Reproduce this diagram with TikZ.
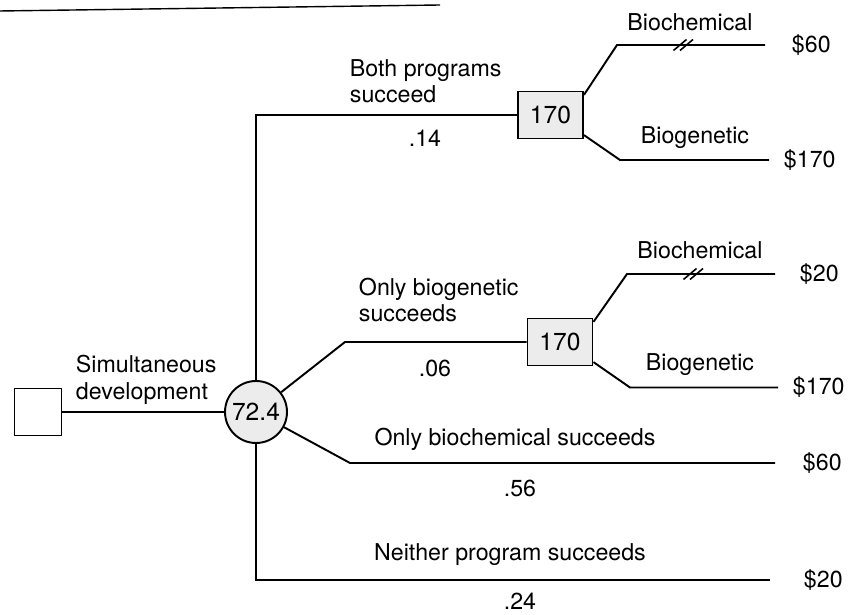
\documentclass[tikz,border=0pt]{standalone}
\usepackage{fontspec}
\setmainfont{TeX Gyre Heros}
\usetikzlibrary{positioning}

\begin{document}
\begin{tikzpicture}[line width=1.1pt,
    every node/.style={font=\fontsize{13.2}{15}\selectfont},
    valbox/.style={draw, fill=gray!15, minimum width=1.3cm, minimum height=0.94cm, inner sep=0pt, font=\fontsize{14}{16}\selectfont},
    chancenode/.style={draw, circle, fill=gray!15, minimum size=1.24cm, inner sep=0pt, font=\fontsize{14}{16}\selectfont},
    lbl/.style={align=left, inner sep=0pt},
    payoff/.style={inner sep=0pt}]
    \useasboundingbox (0,0) rectangle (17.14,12.3);

    % Rule across the top
    \draw[line width=0.8pt] (0,12.08) -- (8.8,12.2);

    % Decision and chance nodes
    \node[draw, minimum size=0.94cm] (start) at (0.76,4.06) {};
    \node[chancenode] (chance) at (5.12,4.06) {72.4};
    \node[valbox] (both) at (11.01,10.0) {170};
    \node[valbox] (biogen) at (11.2,5.46) {170};

    % Corners and ends of the branches
    \coordinate (c1) at (5.12,10.0);
    \coordinate (c2) at (6.9,5.46);
    \coordinate (c3) at (7.0,3.04);
    \coordinate (c4) at (5.12,0.7);
    \coordinate (e3) at (15.5,3.04);
    \coordinate (e4) at (15.4,0.7);
    \coordinate (u1) at (12.34,11.4);
    \coordinate (eu1) at (15.3,11.4);
    \coordinate (l1) at (12.4,9.1);
    \coordinate (el1) at (15.38,9.1);
    \coordinate (u2) at (12.54,6.82);
    \coordinate (eu2) at (15.5,6.82);
    \coordinate (l2) at (12.6,4.55);
    \coordinate (el2) at (15.56,4.55);

    % Draw branches
    \draw (start) -- (chance);
    \draw (chance) -- (c1) -- (both);
    \draw (chance) -- (c2) -- (biogen);
    \draw (chance) -- (c3) -- (e3);
    \draw (chance) -- (c4) -- (e4);
    \draw (both.31) -- (u1) -- (eu1);
    \draw (both.-31) -- (l1) -- (el1);
    \draw (biogen.31) -- (u2) -- (eu2);
    \draw (biogen.-31) -- (l2) -- (el2);

    % Draw slash marks
    \foreach \sx in {13.6,13.73}
        \draw[line width=0.9pt] (\sx-0.13,11.29) -- (\sx+0.13,11.51);
    \foreach \sx in {13.8,13.93}
        \draw[line width=0.9pt] (\sx-0.13,6.71) -- (\sx+0.13,6.93);

    % Payoffs
    \node[payoff, right=0.52cm of eu1] (p1) {\$60};
    \node[payoff, right=0.28cm of el1] (p2) {\$170};
    \node[payoff, right=0.48cm of eu2] (p3) {\$20};
    \node[payoff, right=0.28cm of el2] (p4) {\$170};
    \node[payoff, right=0.54cm of e3] (p5) {\$60};
    \node[payoff, right=0.66cm of e4] (p6) {\$20};

    % Label branches
    \node[lbl, anchor=west] at (1.5,4.7) {Simultaneous\\development};
    \node[lbl, anchor=west] at (6.98,10.68) {Both programs\\succeed};
    \node at (8.5,9.54) {.14};
    \node[lbl, anchor=west] at (7.16,6.3) {Only biogenetic\\succeeds};
    \node at (8.7,4.94) {.06};
    \node at (10.3,3.52) {Only biochemical succeeds};
    \node at (10.4,2.54) {.56};
    \node at (10.2,1.2) {Neither program succeeds};
    \node at (10.4,0.27) {.24};
    \node at (13.8,11.86) {Biochemical};
    \node at (13.9,9.54) {Biogenetic};
    \node at (14.0,7.3) {Biochemical};
    \node at (14.0,5.0) {Biogenetic};
\end{tikzpicture}
\end{document}
